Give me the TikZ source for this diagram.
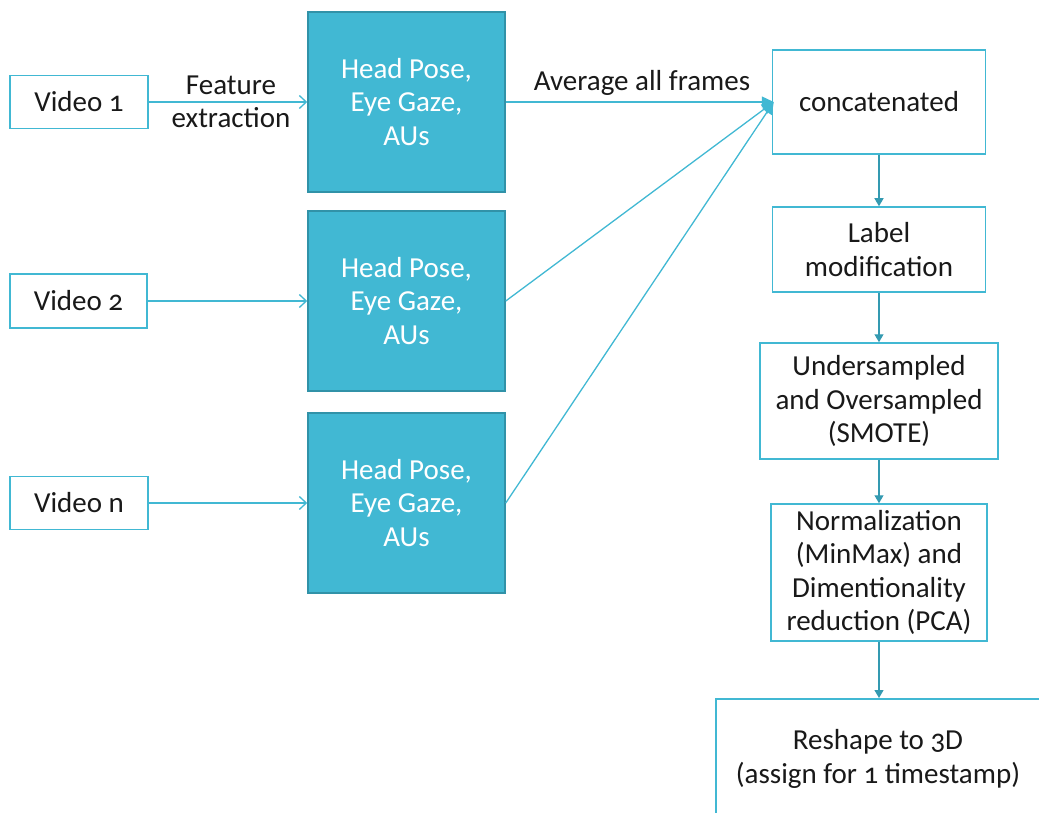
\documentclass[tikz,border=0pt]{standalone}
\usepackage{fontspec}
\setmainfont{Carlito}[Numbers=OldStyle]
\usetikzlibrary{arrows.meta}
\definecolor{tealA}{HTML}{41B8D3}
\definecolor{tealB}{HTML}{3192A8}
\begin{document}
\begin{tikzpicture}[x=1pt,y=-1pt,
  font=\fontsize{29}{33.5}\selectfont,
  obox/.style={draw=tealA, line width=1.5pt, fill=white, align=center, inner sep=0pt, text=black!90},
  fbox/.style={draw=tealB, fill=tealA, line width=1.5pt, text=white, align=center, inner sep=0pt,
               minimum width=197pt, minimum height=180pt},
  openarrow/.style={draw=tealA, line width=1.3pt, -{Straight Barb[length=7pt,width=13pt,line width=1.3pt]}},
  fillarrow/.style={draw=tealA, line width=1.3pt, -{Triangle[length=12pt,width=11pt]}},
  downarrow/.style={draw=tealB!80!tealA, line width=1.3pt, -{Triangle[length=8pt,width=9pt]}},
  lbl/.style={align=center, inner sep=0pt, text=black!90}]
\useasboundingbox (0,0) rectangle (1039,813);

% videos
\node[obox, minimum width=138pt, minimum height=53pt] (v1) at (79,102) {Video 1};
\node[obox, minimum width=137pt, minimum height=54pt] (v2) at (78.5,301) {Video 2};
\node[obox, minimum width=138pt, minimum height=53pt] (vn) at (79,503) {Video n};

% feature boxes
\node[fbox] (h1) at (406.5,102) {Head Pose,\\Eye Gaze,\\AUs};
\node[fbox] (h2) at (406.5,301) {Head Pose,\\Eye Gaze,\\AUs};
\node[fbox] (h3) at (406.5,503) {Head Pose,\\Eye Gaze,\\AUs};

% pipeline
\node[obox, minimum width=213pt, minimum height=104pt] (cat) at (879,102) {concatenated};
\node[obox, minimum width=213pt, minimum height=85pt] (lab) at (879,249.5) {Label\\modification};
\node[obox, minimum width=238pt, minimum height=116pt] (und) at (879,401) {Undersampled\\and Oversampled\\(SMOTE)};
\node[obox, minimum width=216pt, minimum height=137pt] (nrm) at (879,572.5) {Normalization\\(MinMax) and\\Dimentionality\\reduction (PCA)};
\node[obox, anchor=north west, minimum width=360pt, minimum height=160pt] (rsh) at (715,698) {};
\node[lbl] (rtxt) at (878,759) {Reshape to 3D\\(assign for 1 timestamp)};

% labels
\node[lbl] (fe) at (231,102) {Feature\\extraction};
\node[lbl] (avg) at (642,83) {Average all frames};

% connectors
\draw[openarrow] (v1.east) -- (h1.west);
\draw[openarrow] (v2.east) -- (h2.west);
\draw[openarrow] (vn.east) -- (h3.west);

\coordinate (cin) at ([xshift=2pt]cat.west);
\draw[fillarrow] (h1.east) -- (cin);
\draw[fillarrow] (h2.east) -- (cin);
\draw[fillarrow] (h3.east) -- (cin);

\draw[downarrow] (cat.south) -- (lab.north);
\draw[downarrow] (lab.south) -- (und.north);
\draw[downarrow] (und.south) -- (nrm.north);
\draw[downarrow] (nrm.south) -- (nrm.south |- rsh.north);
\end{tikzpicture}
\end{document}
